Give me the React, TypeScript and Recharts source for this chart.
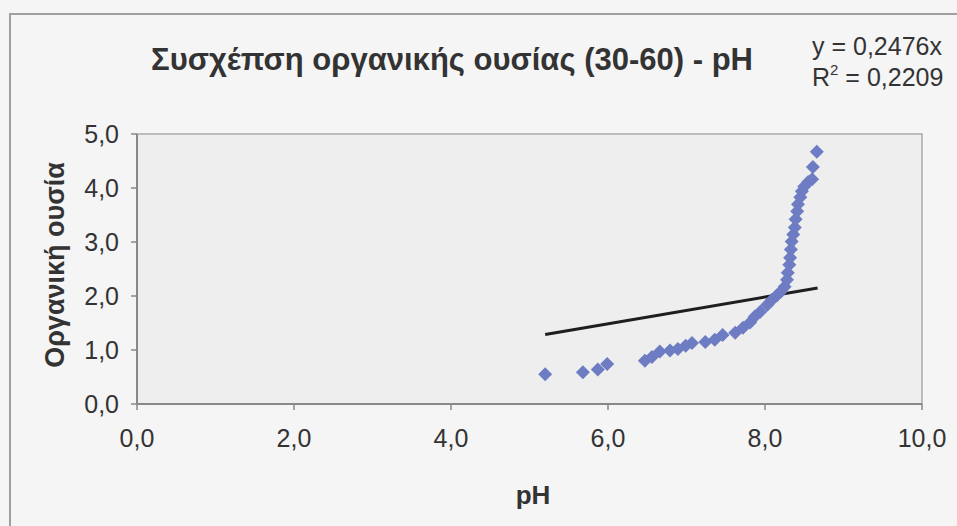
import React from "react";
import {
  ScatterChart,
  Scatter,
  XAxis,
  YAxis,
  ReferenceArea,
} from "recharts";

// pH values
const phValues = [
  5.2, 5.68, 5.87, 5.99, 6.47, 6.56, 6.66, 6.79, 6.89, 6.99, 7.07, 7.24, 7.36,
  7.46, 7.62, 7.72, 7.81, 7.87, 7.94, 8.03, 8.09, 8.15, 8.2, 8.25, 8.28, 8.29,
  8.31, 8.32, 8.33, 8.34, 8.36, 8.38, 8.39, 8.41, 8.42, 8.45, 8.47, 8.5, 8.55,
  8.6, 8.61, 8.66,
];
// organic matter values
const omValues = [
  0.55, 0.59, 0.64, 0.74, 0.8, 0.87, 0.97, 0.99, 1.02, 1.08, 1.13, 1.15, 1.19,
  1.28, 1.32, 1.41, 1.51, 1.62, 1.71, 1.84, 1.93, 2.01, 2.08, 2.17, 2.3, 2.43,
  2.58, 2.71, 2.86, 3.01, 3.14, 3.27, 3.42, 3.57, 3.7, 3.83, 3.94, 4.03, 4.11,
  4.16, 4.39, 4.67,
];
const xTicks = [0, 2, 4, 6, 8, 10];
const yTicks = [0, 1, 2, 3, 4, 5];
const trendSlope = 0.2476;
const trendR2 = "0,2209";
const trendRange = [5.2, 8.67];

const points = phValues.map((x, i) => ({ x, y: omValues[i] }));
const trend = trendRange.map((x) => ({ x, y: trendSlope * x }));

const fmt = (v: number) => v.toFixed(1).replace(".", ",");

const Diamond = (props: any) => {
  const { cx, cy } = props;
  if (cx == null || cy == null) return null;
  const r = 7;
  return (
    <path
      d={`M${cx},${cy - r} L${cx + r},${cy} L${cx},${cy + r} L${cx - r},${cy} Z`}
      fill="#6d7cc3"
    />
  );
};

const font = "'Liberation Sans', Arial, sans-serif";

export default function App() {
  return (
    <div
      style={{
        position: "relative",
        width: 957,
        height: 526,
        background: "#f5f5f5",
        fontFamily: font,
        overflow: "hidden",
      }}
    >
      <style>{`body{margin:0}`}</style>
      <div
        style={{
          position: "absolute",
          left: 9,
          top: 13,
          width: 960,
          height: 520,
          borderLeft: "2px solid #a0a0a0",
          borderTop: "2px solid #a0a0a0",
        }}
      />
      <ScatterChart
        width={957}
        height={526}
        margin={{ top: 134, right: 35, bottom: 62, left: 0 }}
        style={{ position: "absolute", left: 0, top: 0 }}
      >
        <ReferenceArea
          x1={0}
          x2={10}
          y1={0}
          y2={5}
          fill="#eeeeee"
          fillOpacity={1}
          stroke="#aaaaaa"
          strokeWidth={1.5}
        />
        <XAxis
          type="number"
          dataKey="x"
          domain={[0, 10]}
          ticks={xTicks}
          tickFormatter={fmt}
          height={60}
          axisLine={{ stroke: "#888", strokeWidth: 2 }}
          tickLine={{ stroke: "#888", strokeWidth: 1.5 }}
          tickSize={6}
          tick={{ fill: "#333", fontSize: 25, fontFamily: font, dy: 17 }}
          allowDataOverflow
        />
        <YAxis
          type="number"
          dataKey="y"
          domain={[0, 5]}
          ticks={yTicks}
          tickFormatter={fmt}
          width={137}
          axisLine={{ stroke: "#888", strokeWidth: 2 }}
          tickLine={{ stroke: "#888", strokeWidth: 1.5 }}
          tickSize={6}
          tick={{ fill: "#333", fontSize: 25, fontFamily: font, dx: -10 }}
          allowDataOverflow
        />
        <Scatter
          data={trend}
          line={{ stroke: "#1e1e1e", strokeWidth: 3 }}
          shape={() => null}
          isAnimationActive={false}
        />
        <Scatter data={points} shape={Diamond} isAnimationActive={false} />
      </ScatterChart>
      <div
        style={{
          position: "absolute",
          left: 452,
          top: 60,
          transform: "translate(-50%, -50%)",
          fontSize: 31,
          fontWeight: "bold",
          color: "#333",
          whiteSpace: "nowrap",
        }}
      >
        Συσχέπση οργανικής ουσίας (30-60) - pH
      </div>
      <div
        style={{
          position: "absolute",
          left: 812,
          top: 31,
          fontSize: 25,
          color: "#333",
          lineHeight: "31px",
          whiteSpace: "nowrap",
        }}
      >
        <div>y = 0,2476x</div>
        <div>
          R<sup style={{ fontSize: 15, verticalAlign: 11, lineHeight: 0 }}>2</sup> = {trendR2}
        </div>
      </div>
      <div
        style={{
          position: "absolute",
          left: 55,
          top: 265,
          transform: "translate(-50%, -50%) rotate(-90deg)",
          fontSize: 27,
          fontWeight: "bold",
          color: "#333",
          whiteSpace: "nowrap",
        }}
      >
        Οργανική ουσία
      </div>
      <div
        style={{
          position: "absolute",
          left: 533,
          top: 495,
          transform: "translate(-50%, -50%)",
          fontSize: 26,
          fontWeight: "bold",
          color: "#333",
        }}
      >
        pH
      </div>
    </div>
  );
}
